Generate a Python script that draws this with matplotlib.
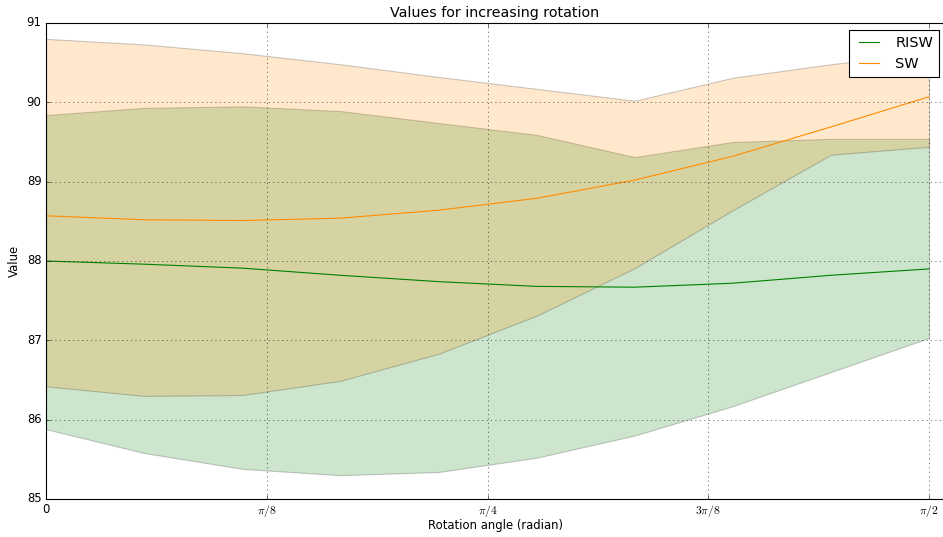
import numpy as np
import matplotlib
matplotlib.use("Agg")
import matplotlib.pyplot as plt

plt.style.use("classic")

angles_deg = [0, 10, 20, 30, 40, 50, 60, 70, 80, 90]

risw_mean = [88.00, 87.96, 87.91, 87.82, 87.74, 87.68, 87.67, 87.72, 87.82, 87.90]
risw_low = [85.88, 85.58, 85.38, 85.30, 85.34, 85.52, 85.80, 86.17, 86.60, 87.03]
risw_high = [89.84, 89.93, 89.95, 89.89, 89.74, 89.59, 89.31, 89.50, 89.54, 89.54]

sw_mean = [88.57, 88.52, 88.51, 88.54, 88.64, 88.79, 89.02, 89.32, 89.69, 90.07]
sw_low = [86.42, 86.30, 86.31, 86.49, 86.83, 87.31, 87.91, 88.64, 89.34, 89.44]
sw_high = [90.80, 90.73, 90.62, 90.48, 90.32, 90.17, 90.02, 90.31, 90.48, 90.62]

xtick_vals = [0, np.pi / 8, np.pi / 4, 3 * np.pi / 8, np.pi / 2]
xtick_labels = ["0", r"$\pi/8$", r"$\pi/4$", r"$3\pi/8$", r"$\pi/2$"]

x = np.deg2rad(angles_deg)

W, H = 943, 537
fig = plt.figure(figsize=(W / 80, H / 80), dpi=80, facecolor="white")
left, right, top, bottom = 46, 1000, 23, 499
ax = fig.add_axes([left / W, 1 - bottom / H, (right - left) / W, (bottom - top) / H])

ax.fill_between(x, risw_low, risw_high, facecolor="green", edgecolor="black", alpha=0.2)
ax.fill_between(x, sw_low, sw_high, facecolor="darkorange", edgecolor="black", alpha=0.2)
ax.plot(x, risw_mean, color="green", lw=1, label="RISW")
ax.plot(x, sw_mean, color="darkorange", lw=1, label="SW")

px_per_rad = (929 - 46) / (np.pi / 2)
ax.set_xlim(0, (right - left) / px_per_rad)
ax.set_ylim(85, 91)
ax.set_xticks(xtick_vals)
ax.set_xticklabels(xtick_labels)
ax.grid(True)
ax.set_title("Values for increasing rotation", fontsize=12.8,
             x=(494.5 - left) / (right - left))
ax.set_xlabel("Rotation angle (radian)", fontsize=10.5)
ax.xaxis.set_label_coords((495 - left) / (right - left), -0.043)
ax.set_ylabel("Value", fontsize=10.5)
ax.tick_params(labelsize=10.5)
ax.legend(loc="upper right", fontsize=13,
          bbox_to_anchor=(939 / W, 1 - 30 / H), bbox_transform=fig.transFigure,
          borderaxespad=0)

fig.savefig("out.png", dpi=80, facecolor="white")
